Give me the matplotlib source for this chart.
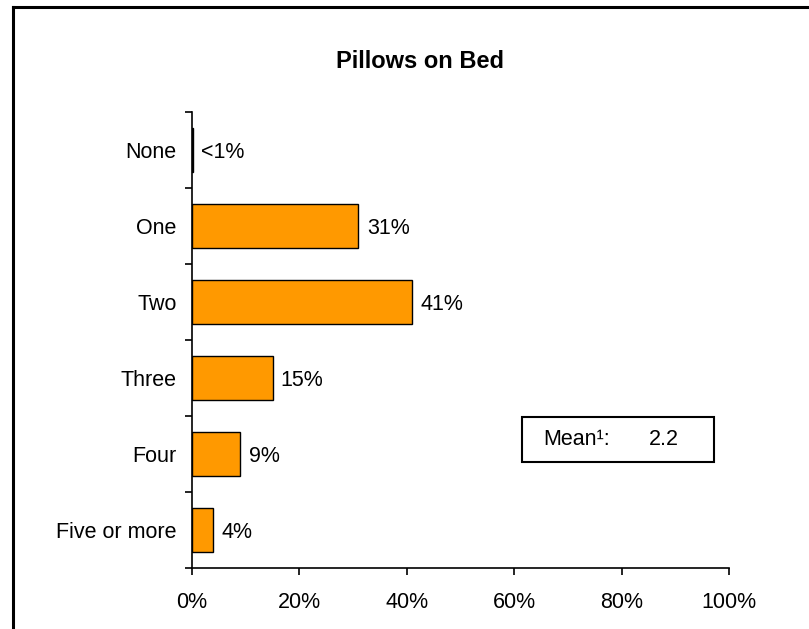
import matplotlib.pyplot as plt
from matplotlib.lines import Line2D
import numpy as np

plt.rcParams['font.family'] = ['Liberation Sans', 'DejaVu Sans']

categories = ['None', 'One', 'Two', 'Three', 'Four', 'Five or more']
values = [0.2, 31, 41, 15, 9, 4]
value_labels = ['<1%', '31%', '41%', '15%', '9%', '4%']
x_ticks = [0, 20, 40, 60, 80, 100]
mean_value = 2.2

fig = plt.figure(figsize=(8.09, 6.29), dpi=100)
ax = fig.add_axes([0.2373, 0.0970, 0.6638, 0.7249])

pos = np.arange(len(categories))
ax.barh(pos, values, height=0.57, color='#FF9900', edgecolor='black', linewidth=1.0)

for p, v, lab in zip(pos, values, value_labels):
    ax.annotate(lab, (v, p), xytext=(6, 0), textcoords='offset points',
                va='center_baseline', ha='left', fontsize=15.5)

ax.set_xlim(0, 100)
ax.set_ylim(len(categories) - 0.5, -0.5)
ax.set_xticks(x_ticks)
ax.set_xticklabels([f'{t}%' for t in x_ticks], fontsize=15.5)
ax.set_yticks(pos)
ax.set_yticklabels(categories, fontsize=15.5)
ax.set_yticks(np.arange(-0.5, len(categories)), minor=True)
ax.tick_params(axis='y', which='major', length=0, pad=11)
ax.tick_params(axis='y', which='minor', length=5, width=1.2, direction='out')
ax.tick_params(axis='x', length=5, width=1.2, direction='out', pad=12)

for side in ['top', 'right']:
    ax.spines[side].set_visible(False)
for side in ['left', 'bottom']:
    ax.spines[side].set_linewidth(1.2)

ax.set_title('Pillows on Bed', fontsize=17, fontweight='bold', pad=32, x=0.425)

# mean box
ax.text(0.655, 0.2818, 'Mean\u00b9:', transform=ax.transAxes, fontsize=15.5,
        va='center', ha='left')
ax.text(0.85, 0.2818, f'{mean_value}', transform=ax.transAxes, fontsize=15.5,
        va='center', ha='left')
box = plt.Rectangle((0.6145, 0.2325), 0.3575, 0.0987, transform=ax.transAxes,
                    fill=False, edgecolor='black', linewidth=1.5, clip_on=False)
ax.add_patch(box)

# outer frame, left and top edges only
fig.add_artist(Line2D([13 / 809, 13 / 809], [0, 1 - 7 / 629], color='black',
                      linewidth=2.2, transform=fig.transFigure))
fig.add_artist(Line2D([13 / 809, 1], [1 - 7 / 629, 1 - 7 / 629], color='black',
                      linewidth=2.2, transform=fig.transFigure))

fig.savefig('out.png', dpi=100)
